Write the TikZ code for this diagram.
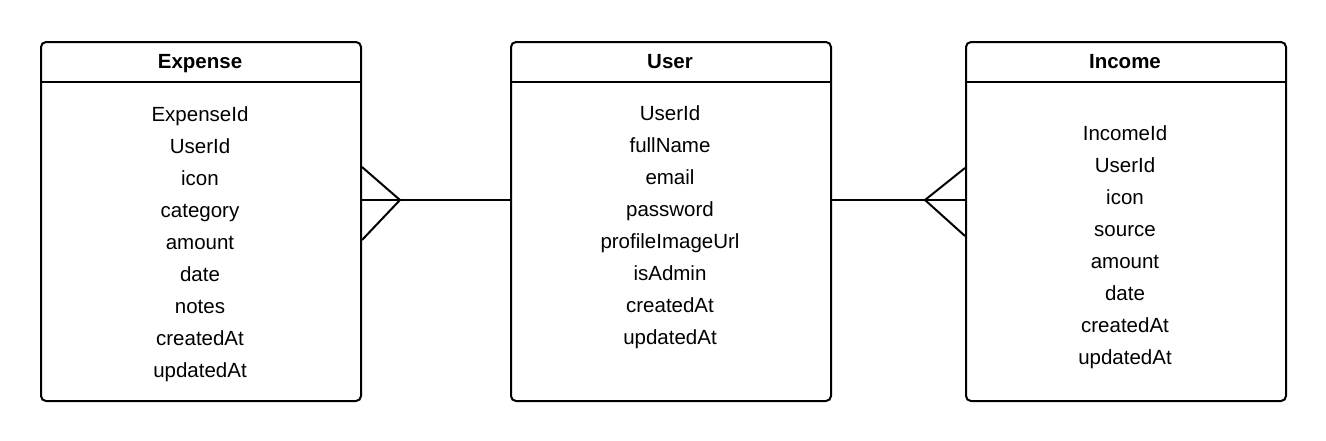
\documentclass[tikz,border=0pt]{standalone}
\usepackage{fontspec}
\setmainfont{Liberation Sans}
\begin{document}
\begin{tikzpicture}[x=1pt,y=-1pt,
  entity/.style={draw, line width=2pt, rounded corners=5pt, minimum width=320pt, minimum height=359pt, anchor=north west, inner sep=0pt},
  hdr/.style={font=\fontsize{20.5}{24}\selectfont\bfseries, anchor=base},
  attrs/.style={font=\fontsize{20.5}{32}\selectfont, align=center, inner sep=0pt},
  conn/.style={line width=2pt}]
\useasboundingbox (0,0) rectangle (1326,440);
% Expense
\node[entity] (exp) at (40,41) {};
\draw[line width=2pt] (40,82) -- (360,82);
\node[hdr] (exph) at (200,68) {Expense};
\node[attrs] (expa) at (200,244) {ExpenseId\\UserId\\icon\\category\\amount\\date\\notes\\createdAt\\updatedAt};
% User
\node[entity] (usr) at (510,41) {};
\draw[line width=2pt] (510,82) -- (830,82);
\node[hdr] (usrh) at (670,68) {User};
\node[attrs] (usra) at (670,227) {UserId\\fullName\\email\\password\\profileImageUrl\\isAdmin\\createdAt\\updatedAt};
% Income
\node[entity] (inc) at (965,41) {};
\draw[line width=2pt] (965,82) -- (1285,82);
\node[hdr] (inch) at (1125,68) {Income};
\node[attrs] (inca) at (1125,247) {IncomeId\\UserId\\icon\\source\\amount\\date\\createdAt\\updatedAt};
% connectors
\coordinate (lt) at (400,200);
\coordinate (rt) at (925,200);
\draw[conn] (usr.west |- lt) -- (exp.east |- lt);
\draw[conn] (exp.east |- 0,167) -- (lt) -- (exp.east |- 0,240);
\draw[conn] (usr.east |- rt) -- (inc.west |- rt);
\draw[conn] (inc.west |- 0,168) -- (rt) -- (inc.west |- 0,236);
\end{tikzpicture}
\end{document}
